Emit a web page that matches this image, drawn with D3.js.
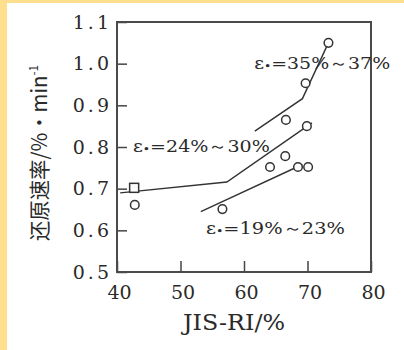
<!DOCTYPE html>
<html>
<head>
<meta charset="utf-8">
<script src="https://cdn.jsdelivr.net/npm/d3@7"></script>
<style>
  html, body { margin: 0; padding: 0; background: #fff; }
  svg { display: block; }
</style>
</head>
<body>
<script>
// ---- data ----
const xTicks = [40, 50, 60, 70, 80];
const xTickLabels = ["40", "50", "60", "70", "80"];
const yTicks = [0.5, 0.6, 0.7, 0.8, 0.9, 1.0, 1.1];
const yTickLabels = ["0.5", "0.6", "0.7", "0.8", "0.9", "1.0", "1.1"];

// measured points (circles)
const pointsX = [73.3, 69.7, 66.6, 69.9, 66.5, 64.1, 68.5, 70.1, 56.6, 42.8];
const pointsY = [1.05, 0.953, 0.865, 0.85, 0.778, 0.752, 0.752, 0.752, 0.651, 0.661];
// square marker
const squareX = [42.7];
const squareY = [0.702];

// fitted lines
const line35X = [61.7, 69.2, 73.2];
const line35Y = [0.838, 0.916, 1.047];
const line24X = [40.5, 57.3, 70.7];
const line24Y = [0.690, 0.716, 0.858];
const line19X = [53.2, 69.2];
const line19Y = [0.645, 0.758];

const seriesLabels = ["=35%～37%", "=24%～30%", "=19%～23%"];
const labelAnchorX = [61.6, 42.5, 54.0];
const labelAnchorY = [1.0, 0.8, 0.603];
const labelLen = [136, 137, 139];

const xTitle = "JIS-RI/%";
const yTitleMain = "还原速率/%·min";
const yTitleSup = "-1";

// ---- layout ----
const W = 404, H = 350;
const x = d3.scaleLinear().domain([40, 80]).range([117, 371]);
const y = d3.scaleLinear().domain([0.5, 1.1]).range([272, 22]);

const svg = d3.select("body").append("svg").attr("width", W).attr("height", H);
svg.append("rect").attr("width", W).attr("height", H).attr("fill", "#fff");
// yellow border strips
svg.append("rect").attr("x", 0).attr("y", 0).attr("width", 7).attr("height", H).attr("fill", "#fddf8d");
svg.append("rect").attr("x", 0).attr("y", 0).attr("width", W).attr("height", 3).attr("fill", "#fddf8d");

const ink = "#2a2a2a";
const serif = "'DejaVu Serif', 'Liberation Serif', serif";

// axes
const yAxis = d3.axisLeft(y).tickValues(yTicks)
  .tickFormat((d, i) => yTickLabels[i]).tickSizeInner(-10).tickSizeOuter(0).tickPadding(5);
const gy = svg.append("g").attr("transform", `translate(${x(40)},0)`).call(yAxis);
gy.select(".domain").remove();
gy.selectAll("line").attr("stroke", "#444").attr("stroke-width", 1.5);
gy.selectAll("text").attr("font-family", serif).attr("font-size", 19)
  .attr("fill", ink).style("letter-spacing", "3px");

const xAxis = d3.axisBottom(x).tickValues(xTicks)
  .tickFormat((d, i) => xTickLabels[i]).tickSizeInner(-11).tickSizeOuter(0).tickPadding(14);
const gx = svg.append("g").attr("transform", `translate(0,${y(0.5)})`).call(xAxis);
gx.select(".domain").remove();
gx.selectAll("line").attr("stroke", "#444").attr("stroke-width", 1.5);
gx.selectAll("text").attr("font-family", serif).attr("font-size", 19).attr("fill", ink)
  .attr("dx", 2);

// frame
svg.append("rect")
  .attr("x", x(40)).attr("y", y(1.1))
  .attr("width", x(80) - x(40)).attr("height", y(0.5) - y(1.1))
  .attr("fill", "none").attr("stroke", "#4a4a4a").attr("stroke-width", 2);

// lines
const lineGen = d3.line().x(d => x(d[0])).y(d => y(d[1]));
[[line35X, line35Y], [line24X, line24Y], [line19X, line19Y]].forEach(([xs, ys]) => {
  svg.append("path").datum(xs.map((v, i) => [v, ys[i]]))
    .attr("d", lineGen).attr("fill", "none").attr("stroke", "#333").attr("stroke-width", 1.4);
});

// circles
svg.selectAll("circle.pt").data(pointsX.map((v, i) => [v, pointsY[i]])).enter()
  .append("circle").attr("class", "pt")
  .attr("cx", d => x(d[0])).attr("cy", d => y(d[1])).attr("r", 4.3)
  .attr("fill", "#fff").attr("stroke", "#333").attr("stroke-width", 1.5);
// square
svg.selectAll("rect.sq").data(squareX.map((v, i) => [v, squareY[i]])).enter()
  .append("rect").attr("class", "sq")
  .attr("x", d => x(d[0]) - 4.5).attr("y", d => y(d[1]) - 4.5)
  .attr("width", 9).attr("height", 9)
  .attr("fill", "#fff").attr("stroke", "#333").attr("stroke-width", 1.5);

// series labels
seriesLabels.forEach((lab, i) => {
  const t = svg.append("text")
    .attr("x", x(labelAnchorX[i])).attr("y", y(labelAnchorY[i]) + 5)
    .attr("font-family", serif).attr("font-size", 17).attr("fill", ink)
    .attr("textLength", labelLen[i]).attr("lengthAdjust", "spacingAndGlyphs");
  t.append("tspan").text("ε");
  t.append("tspan").attr("font-size", 11).attr("dy", 1).text("•");
  t.append("tspan").attr("dy", -1).text(lab);
});

// x title
svg.append("text").attr("x", 234).attr("y", 330)
  .attr("text-anchor", "middle").attr("font-family", serif).attr("font-size", 22)
  .attr("fill", ink).attr("textLength", 102).attr("lengthAdjust", "spacingAndGlyphs")
  .text(xTitle);

// y title
const yt = svg.append("text")
  .attr("transform", `translate(47,153) rotate(-90)`)
  .attr("text-anchor", "middle")
  .attr("font-family", "'Noto Sans CJK SC', " + serif).attr("font-size", 21)
  .attr("fill", ink).attr("textLength", 176).attr("lengthAdjust", "spacingAndGlyphs");
yt.append("tspan").text(yTitleMain);
yt.append("tspan").attr("font-size", 12).attr("dy", -9).text(yTitleSup);
</script>
</body>
</html>
